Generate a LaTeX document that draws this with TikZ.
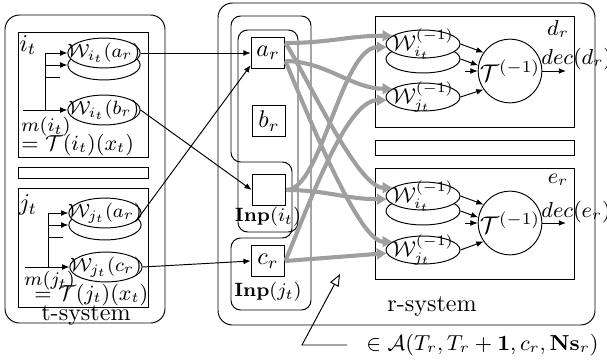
\documentclass[tikz,border=0pt]{standalone}
\usepackage{amsmath}
\usetikzlibrary{arrows.meta,shapes.geometric}
\begin{document}
\begin{tikzpicture}[x=0.415pt,y=-0.415pt,
  box/.style={draw},
  rbox/.style={draw, rounded corners=6pt},
  sq/.style={draw, minimum width=14pt, minimum height=12.8pt, inner sep=0pt},
  tell/.style={draw, ellipse, fill=white, minimum width=30pt, minimum height=12.4pt, inner sep=0pt},
  rell/.style={draw, ellipse, fill=white, minimum width=30.7pt, minimum height=11.6pt, inner sep=0pt},
  tcirc/.style={draw, circle, minimum size=25.7pt, inner sep=0pt},
  lbl/.style={inner sep=0pt},
  arr/.style={-{Latex[length=3pt,width=2.4pt]}},
  garr/.style={draw=gray!75, line width=1.7pt, -{Triangle[length=4pt,width=4.5pt]}},
]
\useasboundingbox (0,0) rectangle (607,360);
% ---------------- t-system
\draw[rbox] (5,15) rectangle (165,323);
\draw[box] (18,32) rectangle (148,157);
\draw[box] (18,167) rectangle (148,178);
\draw[box] (18,188) rectangle (148,307);
\node[lbl] (tsys) at (86,316) {t-system};
% i_t
\node[lbl] (itl) at (28,45) {$i_t$};
\node[tell] (wiab) at (104,65) {};
\node[tell, label={[lbl]center:\footnotesize$\mathcal{W}_{i_t}(a_r)$}] (wia) at (104,53) {};
\node[tell, label={[lbl]center:\footnotesize$\mathcal{W}_{i_t}(b_r)$}] (wib) at (104,110) {};
\node[lbl, anchor=west] (mit) at (21,127) {\footnotesize$m(i_t)$};
\node[lbl, anchor=west] (tit) at (21,145) {\small$=\mathcal{T}(i_t)(x_t)$};
\coordinate (ivt) at (45,53);
\coordinate (ivm) at (45,65);
\coordinate (ivs) at (45,77);
\coordinate (ivse) at (60,77);
\coordinate (ivb) at (45,110);
\coordinate (ist) at (23,110);
\draw (ivt) -- (ivb);
\draw[arr] (ivt) -- (wia.west);
\draw[arr] (ivm) -- (wiab.west);
\draw (ivs) -- (ivse);
\draw[arr] (ist) -- (wib.west);
% j_t
\node[lbl] (jtl) at (28,205) {$j_t$};
\node[tell] (wjab) at (105,225) {};
\node[tell, label={[lbl]center:\footnotesize$\mathcal{W}_{j_t}(a_r)$}] (wja) at (105,213) {};
\node[tell, label={[lbl]center:\footnotesize$\mathcal{W}_{j_t}(c_r)$}] (wjc) at (106,267) {};
\node[lbl, anchor=west] (mjt) at (24,281) {\footnotesize$m(j_t)$};
\node[lbl, anchor=west] (tjt) at (34,295) {\small$=\mathcal{T}(j_t)(x_t)$};
\coordinate (jvt) at (48,213);
\coordinate (jvm) at (48,225);
\coordinate (jvs) at (48,237);
\coordinate (jvse) at (63,237);
\coordinate (jvb) at (48,267);
\coordinate (jst) at (25,267);
\draw (jvt) -- (jvb);
\draw[arr] (jvt) -- (wja.west);
\draw[arr] (jvm) -- (wjab.west);
\draw (jvs) -- (jvse);
\draw[arr] (jst) -- (wjc.west);
% ---------------- r-system
\draw[rbox] (218,3) rectangle (595,325);
\node[lbl] (rsys) at (432,307) {r-system};
\draw[rounded corners=4pt] (231,90) -- (231,16) -- (311,16) -- (311,310) -- (231,310)
  -- (231,238) -- (292,238) -- (292,162) -- (231,162) -- cycle;
\draw[rounded corners=4pt] (238,30) rectangle (298,232);
\node[sq] (ar) at (268,53) {$a_r$};
\node[sq] (br) at (269,121) {$b_r$};
\node[sq] (bl) at (269,190) {};
\node[sq] (cr) at (268,261) {$c_r$};
\node[lbl] (inpi) at (268,217) {\footnotesize$\mathbf{Inp}(i_t)$};
\node[lbl] (inpj) at (268,292) {\footnotesize$\mathbf{Inp}(j_t)$};
% d_r
\draw[box] (375,16) rectangle (574,127);
\draw[box] (375,140) rectangle (574,155);
\draw[box] (375,168) rectangle (574,279);
\node[lbl] (drl) at (558,29) {\small$d_r$};
\node[lbl] (erl) at (558,180) {\small$e_r$};
\node[rell] (dwib) at (423,59) {};
\node[rell, label={[lbl]center:\small$\mathcal{W}^{(-1)}_{i_t}$}] (dwi) at (423,44) {};
\node[rell, label={[lbl]center:\small$\mathcal{W}^{(-1)}_{j_t}$}] (dwj) at (423,97) {};
\node[tcirc] (dT) at (510,71) {$\mathcal{T}^{(-1)}$};
\coordinate (dsh) at (465,71);
\coordinate (dout) at (566,71);
\node[lbl, anchor=west] (ddec) at (541,59) {\small$dec(d_r)$};
\draw[arr] (dwi.east) -- (dT.145);
\draw[arr] (dwib.east) -- (dT.170);
\draw[arr] (dsh) -- (dT.west);
\draw[arr] (dwj.east) -- (dT.215);
\draw[arr] (dT.east) -- (dout);
% e_r
\node[rell] (ewib) at (423,211) {};
\node[rell, label={[lbl]center:\small$\mathcal{W}^{(-1)}_{i_t}$}] (ewi) at (423,196) {};
\node[rell, label={[lbl]center:\small$\mathcal{W}^{(-1)}_{j_t}$}] (ewj) at (423,250) {};
\node[tcirc] (eT) at (510,223) {$\mathcal{T}^{(-1)}$};
\coordinate (esh) at (465,223);
\coordinate (eout) at (566,223);
\node[lbl, anchor=west] (edec) at (541,212) {\small$dec(e_r)$};
\draw[arr] (ewi.east) -- (eT.145);
\draw[arr] (ewib.east) -- (eT.170);
\draw[arr] (esh) -- (eT.west);
\draw[arr] (ewj.east) -- (eT.215);
\draw[arr] (eT.east) -- (eout);
% ---------------- t -> r connectors
\draw[arr] (wia.east) -- (ar.west);
\draw[arr] (wib.east) -- (bl.west);
\draw[arr] (wja.-15) -- (ar.215);
\draw[arr] (wjc.east) -- (cr.west);
% ---------------- gray connectors
\draw[garr] (ar.30) .. controls +(45,0) and +(-45,0) .. (dwi.165);
\draw[garr] (ar.-25) .. controls +(40,0) and +(-40,0) .. (dwj.165);
\draw[garr] (ar.30) .. controls +(20,30) and +(-35,0) .. (ewi.165);
\draw[garr] (ar.-25) .. controls +(15,35) and +(-35,0) .. (ewj.165);
\draw[garr] (bl.east) .. controls +(35,0) and +(-45,0) .. (dwi.185);
\draw[garr] (bl.east) .. controls +(40,0) and +(-40,0) .. (ewi.185);
\draw[garr] (cr.east) .. controls +(25,-60) and +(-40,0) .. (dwj.185);
\draw[garr] (cr.east) -- (ewj.185);
% ---------------- annotation
\coordinate (f1) at (347,345);
\coordinate (f2) at (302,345);
\coordinate (f3) at (340,274);
\draw[-{Triangle[open,length=5pt,width=4pt]}] (f1) -- (f2) -- (f3);
\node[lbl, anchor=west] (form) at (366,345) {\fontsize{9.2}{11}\selectfont$\in \mathcal{A}(T_r, T_r+\mathbf{1}, c_r, \mathbf{Ns}_r)$};
\end{tikzpicture}
\end{document}
